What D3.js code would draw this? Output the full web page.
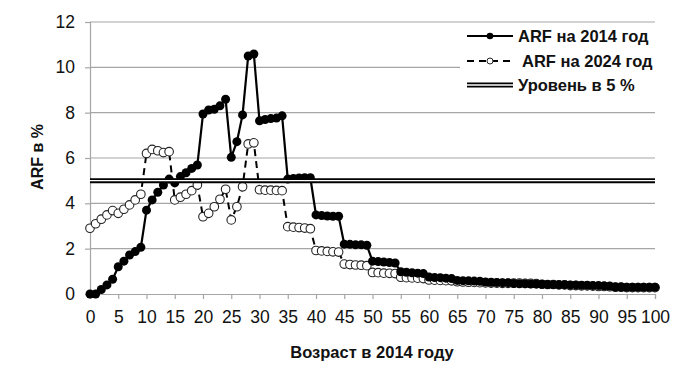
<!DOCTYPE html>
<html><head>
<meta charset="utf-8">
<script src="https://d3js.org/d3.v7.min.js"></script>
<style>
  body { margin: 0; background: #fff; }
  text { font-family: "Liberation Sans Narrow", "Liberation Sans", Arial, sans-serif; }
</style>
</head>
<body>
<svg id="chart" width="692" height="383"></svg>
<script>
// values, ages 0..100 (age in 2014)
const ages = d3.range(0, 101);
const arf2014 = [
  0, 0, 0.2, 0.4, 0.65, 1.2, 1.45, 1.72, 1.87, 2.06,
  3.7, 4.15, 4.49, 4.81, 5.07, 4.9, 5.18, 5.35, 5.54, 5.69,
  7.94, 8.12, 8.15, 8.3, 8.59, 6.03, 6.72, 7.9, 10.5, 10.59,
  7.64, 7.7, 7.74, 7.76, 7.86, 5.07, 5.1, 5.12, 5.13, 5.13,
  3.49, 3.46, 3.44, 3.43, 3.43, 2.2, 2.19, 2.17, 2.17, 2.15,
  1.45, 1.43, 1.41, 1.39, 1.37, 0.98, 0.96, 0.94, 0.92, 0.9,
  0.75, 0.73, 0.72, 0.7, 0.68, 0.6, 0.59, 0.58, 0.57, 0.56,
  0.53, 0.52, 0.51, 0.5, 0.5, 0.46, 0.45, 0.45, 0.44, 0.44,
  0.43, 0.42, 0.42, 0.41, 0.41, 0.4, 0.4, 0.39, 0.39, 0.38,
  0.37, 0.36, 0.35, 0.31, 0.31, 0.3, 0.3, 0.3, 0.3, 0.3, 0.3
];
const arf2024 = [
  2.9, 3.1, 3.3, 3.49, 3.68, 3.56, 3.74, 3.93, 4.15, 4.4,
  6.2, 6.38, 6.32, 6.24, 6.28, 4.15, 4.27, 4.4, 4.56, 4.81,
  3.41, 3.56, 3.85, 4.18, 4.62, 3.27, 3.85, 4.73, 6.62, 6.67,
  4.6, 4.58, 4.58, 4.57, 4.56, 2.97, 2.95, 2.93, 2.91, 2.88,
  1.92, 1.9, 1.88, 1.86, 1.85, 1.32, 1.3, 1.28, 1.27, 1.25,
  0.95, 0.94, 0.92, 0.91, 0.9, 0.74, 0.72, 0.71, 0.7, 0.68,
  0.62, 0.61, 0.6, 0.59, 0.58, 0.54, 0.53, 0.52, 0.51, 0.5,
  0.49, 0.48, 0.48, 0.47, 0.47, 0.48, 0.48, 0.47, 0.47, 0.46,
  0.43, 0.42, 0.42, 0.4, 0.4, 0.37, 0.37, 0.36, 0.36, 0.35,
  0.33, 0.33, 0.32, 0.3, 0.3, 0.28, 0.28, 0.28, 0.28, 0.28, 0.28
];
const level = 5;
const xTicks = [0, 5, 10, 15, 20, 25, 30, 35, 40, 45, 50, 55, 60, 65, 70, 75, 80, 85, 90, 95, 100];
const yTicks = [0, 2, 4, 6, 8, 10, 12];
const legendNames = ["ARF на 2014 год", "ARF на 2024 год", "Уровень в 5 %"];

let svg = d3.select("svg#chart");
let margin = { "top": 22, "right": 37, "bottom": 89, "left": 90 };
let chartWidth = 692 - margin.left - margin.right;
let chartHeight = 383 - margin.top - margin.bottom;

let x = d3.scaleLinear().domain([0, 100]).range([margin.left, margin.left + chartWidth]);
let y = d3.scaleLinear().domain([0, 12]).range([margin.top + chartHeight, margin.top]);

// gridlines
svg.append("g").selectAll("line").data(yTicks.filter(d => d > 0)).join("line")
  .attr("x1", x(0)).attr("x2", x(100))
  .attr("y1", d => y(d)).attr("y2", d => y(d))
  .attr("stroke", "#a6a6a6").attr("stroke-width", 1.2);

// y axis
let leftAxis = d3.axisLeft(y).tickValues(yTicks).tickSize(5).tickPadding(10);
let ga = svg.append("g").attr("transform", "translate(" + x(0) + ",0)").call(leftAxis);
ga.select(".domain").attr("stroke", "#a6a6a6").attr("stroke-width", 1.2);
ga.selectAll(".tick line").attr("stroke", "#a6a6a6").attr("stroke-width", 1.2);
ga.selectAll("text").attr("font-size", 17.5).attr("fill", "#111")
  .attr("font-family", "'Liberation Sans Narrow', 'Liberation Sans', sans-serif");

// x axis
let bottomAxis = d3.axisBottom(x).tickValues(xTicks).tickSize(5).tickPadding(12);
let gb = svg.append("g").attr("transform", "translate(0," + y(0) + ")").call(bottomAxis);
gb.select(".domain").attr("stroke", "#a6a6a6").attr("stroke-width", 1.2);
gb.selectAll(".tick line").attr("stroke", "#a6a6a6").attr("stroke-width", 1.2);
gb.selectAll("text").attr("font-size", 17.5).attr("fill", "#111")
  .attr("font-family", "'Liberation Sans Narrow', 'Liberation Sans', sans-serif");

// titles
svg.append("text").attr("x", 372).attr("y", 358).attr("text-anchor", "middle")
  .attr("font-size", 16.5).attr("font-weight", "bold").attr("fill", "#111")
  .text("Возраст в 2014 году");
svg.append("text").attr("transform", "translate(43,157) rotate(-90)").attr("text-anchor", "middle")
  .attr("font-size", 16).attr("font-weight", "bold").attr("fill", "#111")
  .text("ARF в %");

let line = d3.line().x((d, i) => x(ages[i])).y(d => y(d));

// 2024 series: dashed with open markers
svg.append("path").datum(arf2024).attr("d", line)
  .attr("fill", "none").attr("stroke", "#000").attr("stroke-width", 2)
  .attr("stroke-dasharray", "7,5");
svg.append("g").selectAll("circle").data(arf2024).join("circle")
  .attr("cx", (d, i) => x(ages[i])).attr("cy", d => y(d)).attr("r", 4.3)
  .attr("fill", "#fff").attr("stroke", "#222").attr("stroke-width", 1.1);

// 2014 series: solid with filled markers
svg.append("path").datum(arf2014).attr("d", line)
  .attr("fill", "none").attr("stroke", "#000").attr("stroke-width", 2.2);
svg.append("g").selectAll("circle").data(arf2014).join("circle")
  .attr("cx", (d, i) => x(ages[i])).attr("cy", d => y(d)).attr("r", 4.5)
  .attr("fill", "#000");

// 5 % level, double line
svg.append("line").attr("x1", x(0)).attr("x2", x(100)).attr("y1", y(level)).attr("y2", y(level))
  .attr("stroke", "#000").attr("stroke-width", 5);
svg.append("line").attr("x1", x(0)).attr("x2", x(100)).attr("y1", y(level)).attr("y2", y(level))
  .attr("stroke", "#fff").attr("stroke-width", 1.4);

// legend
let lg = svg.append("g");
lg.append("rect").attr("x", 460).attr("y", 25).attr("width", 232).attr("height", 80).attr("fill", "#fff");
let rows = [36, 61, 85];
// row 1
lg.append("line").attr("x1", 467).attr("x2", 513).attr("y1", rows[0]).attr("y2", rows[0])
  .attr("stroke", "#000").attr("stroke-width", 2);
lg.append("circle").attr("cx", 490).attr("cy", rows[0]).attr("r", 3.3).attr("fill", "#000");
// row 2
lg.append("line").attr("x1", 467).attr("x2", 513).attr("y1", rows[1]).attr("y2", rows[1])
  .attr("stroke", "#000").attr("stroke-width", 2).attr("stroke-dasharray", "7,5");
lg.append("circle").attr("cx", 490).attr("cy", rows[1]).attr("r", 3).attr("fill", "#fff")
  .attr("stroke", "#222").attr("stroke-width", 1);
// row 3
lg.append("line").attr("x1", 467).attr("x2", 513).attr("y1", rows[2]).attr("y2", rows[2])
  .attr("stroke", "#000").attr("stroke-width", 5);
lg.append("line").attr("x1", 467).attr("x2", 513).attr("y1", rows[2]).attr("y2", rows[2])
  .attr("stroke", "#fff").attr("stroke-width", 1.4);
lg.selectAll("text.lab").data(legendNames).join("text").attr("class", "lab")
  .attr("x", (d, i) => i == 1 ? 522 : 518).attr("y", (d, i) => rows[i] + 5.5)
  .attr("font-size", 16.5).attr("font-weight", "bold").attr("fill", "#111")
  .attr("font-family", "'Liberation Sans', Arial, sans-serif")
  .text(d => d);
</script>
</body>
</html>
